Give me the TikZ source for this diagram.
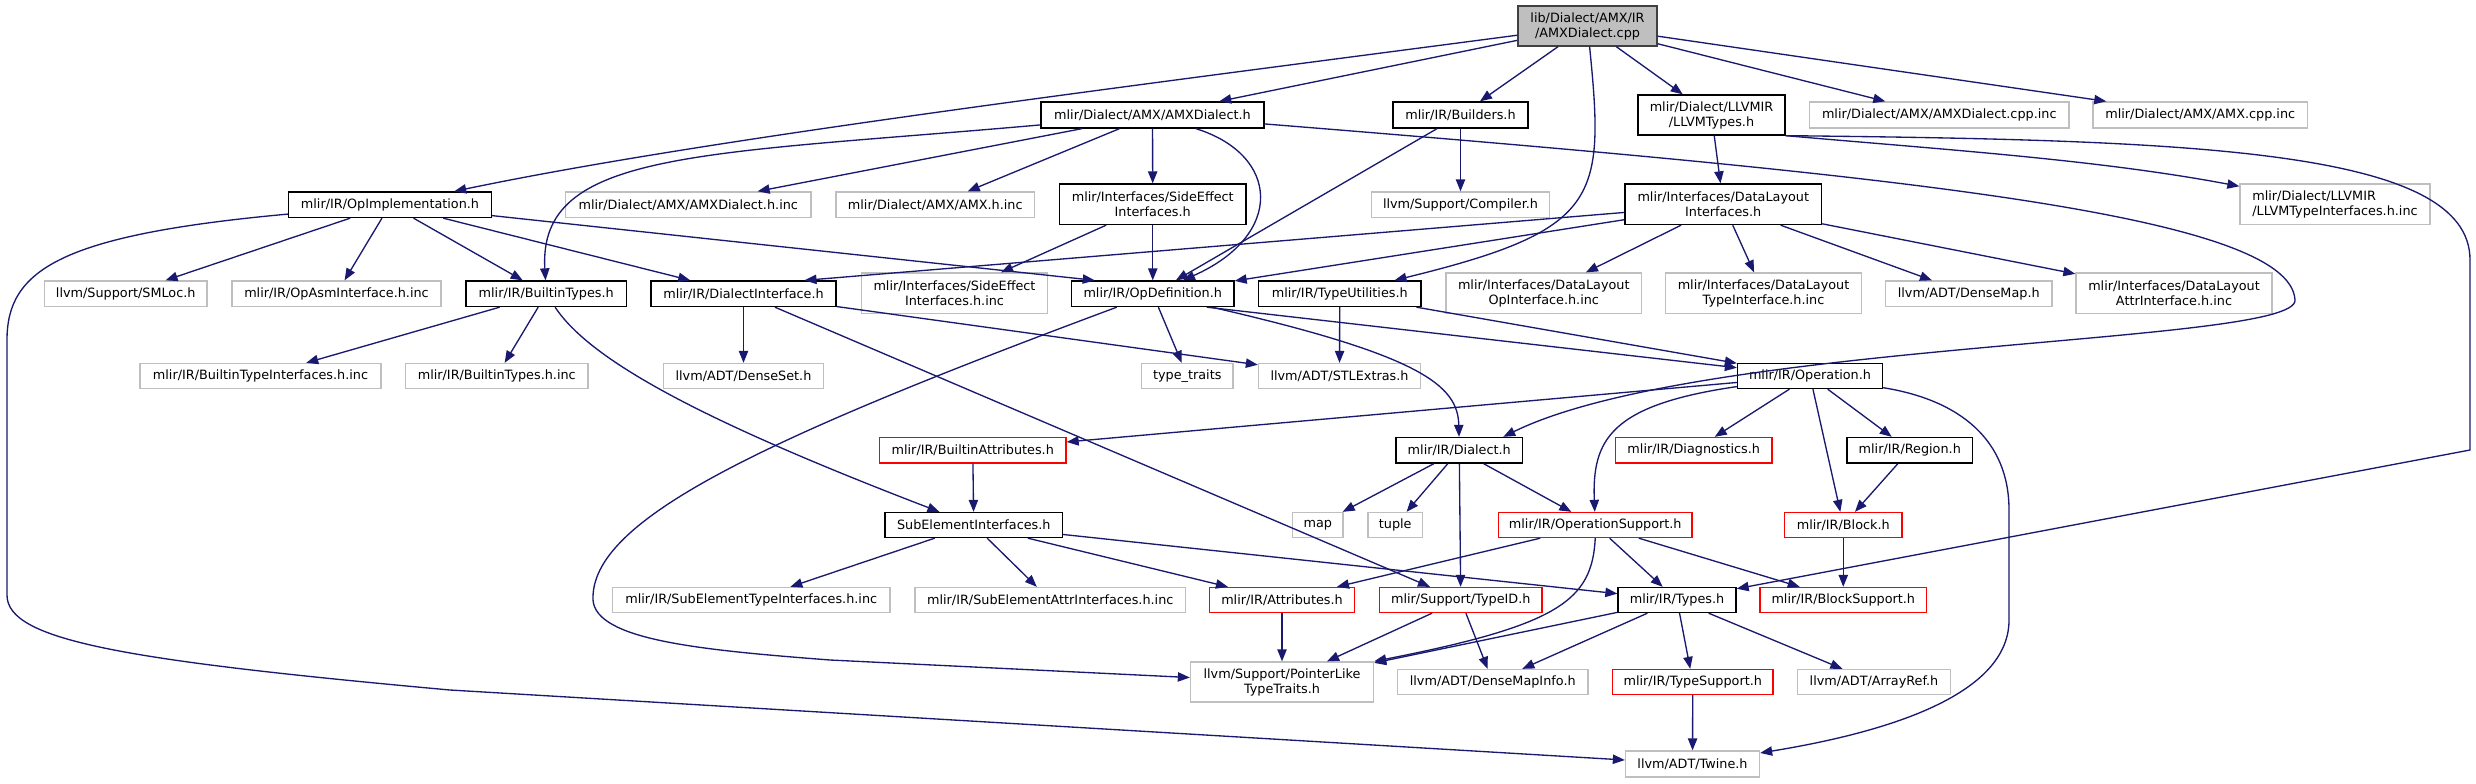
\documentclass[tikz,border=0pt]{standalone}
\usepackage{fontspec}
\setmainfont{DejaVu Sans}
\usetikzlibrary{arrows.meta,calc}
\definecolor{edgec}{HTML}{191970}
\definecolor{greyb}{HTML}{BFBFBF}
\definecolor{rootb}{HTML}{404040}
\newcommand\mknode[7]{\node[#6, minimum width={(#3-#2)*0.75pt}, minimum height={(#5-#4)*0.75pt}] (#1) at ({(#2+#3)/2},{(#4+#5)/2}) {#7};}
\tikzset{
  basebox/.style={rectangle, inner sep=0pt, line width=1pt, fill=white, align=center,
    font=\fontsize{9.6}{11.25}\selectfont},
  gbox/.style={basebox, draw=greyb},
  bbox/.style={basebox, draw=black},
  rbox/.style={basebox, draw=red},
  rootbox/.style={basebox, draw=rootb, fill=greyb},
  edge/.style={draw=edgec, line width=1pt, -{Triangle[length=9pt,width=7pt]}}
}
\begin{document}
\begin{tikzpicture}[x=0.75pt,y=-0.75pt]
\useasboundingbox (0,0) rectangle (2476,783);
\fill[white] (0,0) rectangle (2476,783);
% nodes
\mknode{root}{1518}{1657}{6}{46}{rootbox}{lib/Dialect/AMX/IR\\/AMXDialect.cpp}
\mknode{amxh}{1041}{1264}{102}{128}{bbox}{mlir/Dialect/AMX/AMXDialect.h}
\mknode{builders}{1393}{1528}{102}{128}{bbox}{mlir/IR/Builders.h}
\mknode{llvmtypes}{1638}{1785}{95}{135}{bbox}{mlir/Dialect/LLVMIR\\/LLVMTypes.h}
\mknode{amxcppinc}{1809.5}{2069}{102}{128}{gbox}{mlir/Dialect/AMX/AMXDialect.cpp.inc}
\mknode{amxcpp}{2093}{2307.5}{102}{128}{gbox}{mlir/Dialect/AMX/AMX.cpp.inc}
\mknode{opimpl}{288.5}{491.5}{192}{217.5}{bbox}{mlir/IR/OpImplementation.h}
\mknode{amxhinc}{565.5}{811}{192}{217.5}{gbox}{mlir/Dialect/AMX/AMXDialect.h.inc}
\mknode{amxinc}{836}{1034.5}{192}{217.5}{gbox}{mlir/Dialect/AMX/AMX.h.inc}
\mknode{sideeff}{1059.5}{1246}{184}{224.5}{bbox}{mlir/Interfaces/SideEffect\\Interfaces.h}
\mknode{compiler}{1371.5}{1549.5}{192}{217.5}{gbox}{llvm/Support/Compiler.h}
\mknode{dli}{1625}{1821.5}{184}{224.5}{bbox}{mlir/Interfaces/DataLayout\\Interfaces.h}
\mknode{lltiinc}{2240}{2430}{184}{224.5}{gbox,align=left}{mlir/Dialect/LLVMIR\\/LLVMTypeInterfaces.h.inc}
\mknode{builtintypes}{466}{626.5}{281}{306.5}{bbox}{mlir/IR/BuiltinTypes.h}
\mknode{smloc}{44.5}{207}{281}{306.5}{gbox}{llvm/Support/SMLoc.h}
\mknode{opasm}{232}{441}{281}{306.5}{gbox}{mlir/IR/OpAsmInterface.h.inc}
\mknode{dialectif}{651}{836}{281}{306.5}{bbox}{mlir/IR/DialectInterface.h}
\mknode{sideeffinc}{861.5}{1047.5}{273}{313.5}{gbox}{mlir/Interfaces/SideEffect\\Interfaces.h.inc}
\mknode{opdef}{1071.5}{1234}{281}{306.5}{bbox}{mlir/IR/OpDefinition.h}
\mknode{typeutil}{1258.5}{1421}{281}{306.5}{bbox}{mlir/IR/TypeUtilities.h}
\mknode{dloi}{1446}{1641.5}{273}{313.5}{gbox}{mlir/Interfaces/DataLayout\\OpInterface.h.inc}
\mknode{dlti}{1665.5}{1861.5}{273}{313.5}{gbox}{mlir/Interfaces/DataLayout\\TypeInterface.h.inc}
\mknode{densemap}{1885.5}{2052}{281}{306.5}{gbox}{llvm/ADT/DenseMap.h}
\mknode{dlai}{2076}{2272}{273}{313.5}{gbox}{mlir/Interfaces/DataLayout\\AttrInterface.h.inc}
\mknode{btiinc}{140}{381}{363.5}{388.5}{gbox}{mlir/IR/BuiltinTypeInterfaces.h.inc}
\mknode{btinc}{405.5}{588}{363.5}{388.5}{gbox}{mlir/IR/BuiltinTypes.h.inc}
\mknode{denseset}{663.5}{823.5}{363.5}{388.5}{gbox}{llvm/ADT/DenseSet.h}
\mknode{typetraits}{1141.5}{1233}{363.5}{388.5}{gbox}{type\_traits}
\mknode{stlextras}{1258.5}{1420.5}{363.5}{388.5}{gbox}{llvm/ADT/STLExtras.h}
\mknode{oper}{1737.5}{1882.5}{363.5}{388.5}{bbox}{mlir/IR/Operation.h}
\mknode{battr}{879.5}{1066}{437.5}{463}{rbox}{mlir/IR/BuiltinAttributes.h}
\mknode{dialect}{1396}{1522.5}{437.5}{463}{bbox}{mlir/IR/Dialect.h}
\mknode{diag}{1615.5}{1772}{437.5}{463}{rbox}{mlir/IR/Diagnostics.h}
\mknode{region}{1847}{1972.5}{437.5}{463}{bbox}{mlir/IR/Region.h}
\mknode{subel}{885}{1062.5}{512.5}{537.5}{bbox}{SubElementInterfaces.h}
\mknode{map}{1292.5}{1343}{512.5}{537.5}{gbox}{map}
\mknode{tuple}{1368}{1422.5}{512.5}{537.5}{gbox}{tuple}
\mknode{opsupp}{1498.5}{1692}{512.5}{537.5}{rbox}{mlir/IR/OperationSupport.h}
\mknode{block}{1784.5}{1902}{512.5}{537.5}{rbox}{mlir/IR/Block.h}
\mknode{setiinc}{612.5}{890}{587.5}{612.5}{gbox}{mlir/IR/SubElementTypeInterfaces.h.inc}
\mknode{seaiinc}{915}{1185.5}{587.5}{612.5}{gbox}{mlir/IR/SubElementAttrInterfaces.h.inc}
\mknode{attrs}{1209.5}{1354.5}{587.5}{612.5}{rbox}{mlir/IR/Attributes.h}
\mknode{typeid}{1379.5}{1542}{587.5}{612.5}{rbox}{mlir/Support/TypeID.h}
\mknode{types}{1618}{1736}{587.5}{612.5}{bbox}{mlir/IR/Types.h}
\mknode{blocksupp}{1760}{1926.5}{587.5}{612.5}{rbox}{mlir/IR/BlockSupport.h}
\mknode{plt}{1190.5}{1373.5}{662}{702}{gbox}{llvm/Support/PointerLike\\TypeTraits.h}
\mknode{dmi}{1397.5}{1588}{669.5}{694.5}{gbox}{llvm/ADT/DenseMapInfo.h}
\mknode{typesupp}{1612.5}{1773}{669.5}{694.5}{rbox}{mlir/IR/TypeSupport.h}
\mknode{arrayref}{1797.5}{1950.5}{669.5}{694.5}{gbox}{llvm/ADT/ArrayRef.h}
\mknode{twine}{1625.5}{1759.5}{751}{777}{gbox}{llvm/ADT/Twine.h}
% edges from root
\draw[edge] (root) .. controls (1100,90) and (700,140) .. (opimpl);
\draw[edge] (root) -- (amxh);
\draw[edge] (root) -- (builders);
\draw[edge] (root) .. controls (1605,200) and (1600,230) .. (typeutil);
\draw[edge] (root) -- (llvmtypes);
\draw[edge] (root) -- (amxcppinc);
\draw[edge] (root) -- (amxcpp);
% AMXDialect.h
\draw[edge] (amxh) .. controls (700,155) and (538,150) .. (builtintypes);
\draw[edge] (amxh) -- (amxhinc);
\draw[edge] (amxh) -- (amxinc);
\draw[edge] (amxh) -- (sideeff);
\draw[edge] (amxh) .. controls (1280,155) and (1285,235) .. (opdef);
\draw[edge] (amxh) .. controls (1900,175) and (2290,215) .. (2295,300) .. controls (2298,345) and (1700,340) .. ($(dialect.north)+(44,0)$);
% Builders
\draw[edge] (builders) -- (opdef);
\draw[edge] (builders) -- (compiler);
% LLVMTypes
\draw[edge] (llvmtypes) -- (dli);
\draw[edge] (llvmtypes.south east) .. controls (1950,150) and (2100,160) .. (lltiinc);
\draw[edge] (llvmtypes.south east) .. controls (2200,140) and (2470,150) .. (2470,260) -- (2470,450) -- (types);
% SideEffect
\draw[edge] (sideeff) -- (sideeffinc);
\draw[edge] (sideeff) -- (opdef);
% DataLayoutInterfaces
\draw[edge] (dli) -- ($(dialectif.north)+(61,0)$);
\draw[edge] (dli) -- (opdef);
\draw[edge] (dli) -- (dloi);
\draw[edge] (dli) -- (dlti);
\draw[edge] (dli) -- (densemap);
\draw[edge] (dli) -- (dlai);
% OpImplementation
\draw[edge] (opimpl) .. controls (60,235) and (7,270) .. (7,340) -- (7,595) .. controls (7,640) and (120,660) .. (450,690) -- (twine);
\draw[edge] (opimpl) -- (smloc);
\draw[edge] (opimpl) -- (opasm);
\draw[edge] (opimpl) -- (builtintypes);
\draw[edge] (opimpl) -- (dialectif);
\draw[edge] (opimpl) -- ($(opdef.north)+(-58,0)$);
% BuiltinTypes
\draw[edge] (builtintypes) -- (btiinc);
\draw[edge] (builtintypes) -- (btinc);
\draw[edge] (builtintypes) .. controls (590,360) and (700,420) .. (subel);
% DialectInterface
\draw[edge] (dialectif) -- (denseset);
\draw[edge] (dialectif) -- (typeid);
\draw[edge] (dialectif) -- (stlextras);
% OpDefinition
\draw[edge] (opdef) .. controls (760,440) and (590,520) .. (593,600) .. controls (596,640) and (700,650) .. (830,660) -- (plt);
\draw[edge] (opdef) -- (typetraits);
\draw[edge] ($(opdef.south)+(59,0)$) .. controls (1420,355) and (1458,385) .. (dialect);
\draw[edge] ($(opdef.south)+(54,0)$) -- (oper);
% TypeUtilities
\draw[edge] (typeutil) -- (stlextras);
\draw[edge] (typeutil) -- (oper);
% Operation
\draw[edge] (oper) -- (battr);
\draw[edge] (oper) .. controls (1610,405) and (1592,440) .. (opsupp);
\draw[edge] (oper) -- (diag);
\draw[edge] (oper) -- (block);
\draw[edge] (oper) -- (region);
\draw[edge] (oper) .. controls (1960,400) and (2009,440) .. (2009,510) -- (2009,620) .. controls (2009,700) and (1870,735) .. (twine);
% Dialect
\draw[edge] (dialect) -- (map);
\draw[edge] (dialect) -- (tuple);
\draw[edge] (dialect) -- (typeid);
\draw[edge] (dialect) -- (opsupp);
% others
\draw[edge] (battr) -- (subel);
\draw[edge] (region) -- (block);
\draw[edge] (subel) -- (setiinc);
\draw[edge] (subel) -- (seaiinc);
\draw[edge] (subel) -- (attrs);
\draw[edge] (subel) -- (types);
\draw[edge] (opsupp) -- (attrs);
\draw[edge] (opsupp.south) .. controls (1592,600) and (1560,625) .. (plt.north east);
\draw[edge] (opsupp) -- (types);
\draw[edge] (opsupp) -- (blocksupp);
\draw[edge] (block) -- (blocksupp);
\draw[edge] (attrs) -- (plt);
\draw[edge] (typeid) -- (plt);
\draw[edge] (typeid) -- (dmi);
\draw[edge] (types) -- (plt);
\draw[edge] (types) -- (dmi);
\draw[edge] (types) -- (typesupp);
\draw[edge] (types) -- (arrayref);
\draw[edge] (typesupp) -- (twine);
\end{tikzpicture}
\end{document}
